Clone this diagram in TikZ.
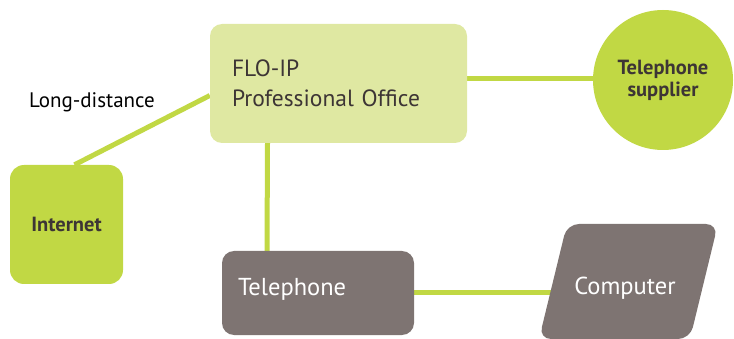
\documentclass[tikz,border=0pt]{standalone}
\usepackage{fontspec}
\setmainfont{PT Sans}
\usetikzlibrary{backgrounds}

\definecolor{palegreen}{HTML}{DFE8A2}
\definecolor{limegreen}{HTML}{C1D844}
\definecolor{taupe}{HTML}{7E7472}
\definecolor{darktext}{HTML}{3D3535}

\tikzset{
  link/.style={line width=5pt,draw=limegreen},
  officebox/.style={fill=palegreen,rounded corners=12pt,minimum width=257pt,minimum height=119pt,
    text width=213pt,align=left,text=darktext,font=\fontsize{23.5}{30}\selectfont},
  netbox/.style={fill=limegreen,rounded corners=14pt,minimum width=113pt,minimum height=119pt,
    text=darktext,font=\bfseries\fontsize{20.5}{22}\selectfont},
  supplierdisc/.style={circle,fill=limegreen,minimum size=140pt,align=center,
    text=darktext,font=\bfseries\fontsize{20.5}{22}\selectfont},
  phonebox/.style={fill=taupe,rounded corners=12pt,minimum width=192pt,minimum height=84pt,
    text width=160pt,align=left,text=white,font=\fontsize{24.5}{26}\selectfont},
  pclabel/.style={text=white,font=\fontsize{24.5}{26}\selectfont}
}

\begin{document}
\begin{tikzpicture}[x=1pt,y=-1pt]
    \useasboundingbox (0,0) rectangle (734,339);

    \node[officebox] (office) at (338.5,83.5) {FLO-IP\\Professional Office};
    \node[supplierdisc] (supplier) at (663,80) {Telephone\\supplier};
    \node[netbox] (internet) at (66.5,224.5) {Internet};
    \node[phonebox] (phone) at (318,293) {Telephone\\[-14pt]\mbox{}};

    % slanted computer block
    \path[fill=taupe,rounded corners=12pt] (539,339) -- (567,224) -- (718,224) -- (690,339) -- cycle;
    \node[pclabel] (pc) at (625,288) {Computer};
    \coordinate (pcedge) at (552,293);

    \node[font=\fontsize{21}{22}\selectfont] (dist) at (92,102) {Long-distance};

    % connections go behind the boxes
    \begin{scope}[on background layer]
      \draw[link] ([xshift=8pt]internet.north) -- ([yshift=-12pt]office.west);
      \draw[link] ([yshift=5pt]office.east) -- ([yshift=5pt]office.east -| supplier.center);
      \draw[link] ([xshift=-71pt]office.south) -- ([xshift=-51pt]phone.north);
      \draw[link] (phone.east) -- (pcedge);
    \end{scope}
\end{tikzpicture}
\end{document}
